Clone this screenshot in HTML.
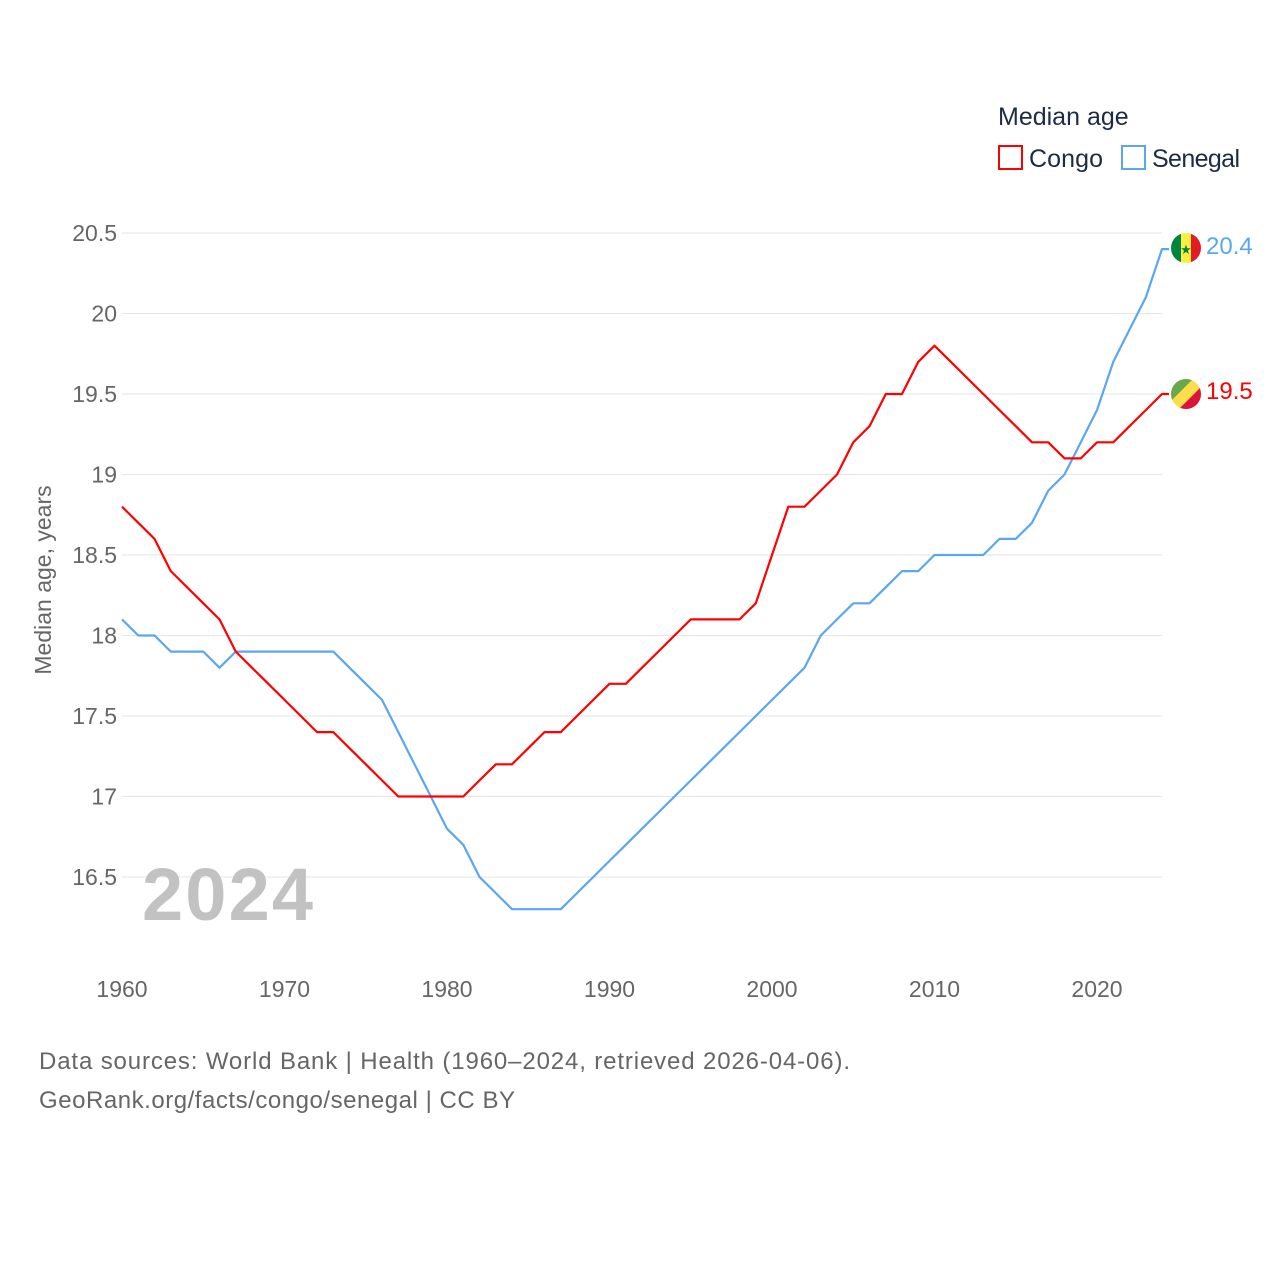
<!DOCTYPE html>
<html><head><meta charset="utf-8">
<style>
body{margin:0;background:#fff;font-family:"Liberation Sans",sans-serif;}
svg text{font-family:"Liberation Sans",sans-serif;}
</style></head>
<body>
<svg id="chart" width="1280" height="1280" xmlns="http://www.w3.org/2000/svg">
  <text x="998" y="125" font-size="25" fill="#1d2b45">Median age</text>
  <g>
    <rect x="999" y="146" width="23" height="23" fill="none" stroke="#f00" stroke-width="2"/>
    <text x="1029" y="167" font-size="25" fill="#1d2b45" textLength="74">Congo</text>
  </g>
  <g>
    <rect x="1122" y="146" width="23" height="23" fill="none" stroke="#5aa7ef" stroke-width="2"/>
    <text x="1152" y="167" font-size="25" fill="#1d2b45" textLength="88">Senegal</text>
  </g>
  <g id="grid"></g>
  <g id="yticks"></g>
  <g id="xticks"></g>
  <text x="0" y="0" transform="translate(51,580) rotate(-90)" text-anchor="middle" font-size="23" fill="#666">Median age, years</text>
  <text x="142" y="920" font-size="74" font-weight="bold" fill="#c2c2c2" textLength="171">2024</text>
  <g id="series"></g>
  <g>
    <clipPath id="cs"><circle cx="1186" cy="248" r="15"/></clipPath>
    <g clip-path="url(#cs)">
      <rect x="1171" y="233" width="10" height="30" fill="#00853f"/>
      <rect x="1181" y="233" width="10" height="30" fill="#fdef42"/>
      <rect x="1191" y="233" width="10" height="30" fill="#e31b23"/>
    </g>
    <text x="1186" y="254" font-size="13" text-anchor="middle" fill="#00853f">★</text>
  </g>
  <g>
    <clipPath id="cc"><circle cx="1186" cy="394" r="15"/></clipPath>
    <g clip-path="url(#cc)">
      <rect x="1171" y="379" width="30" height="30" fill="#fbde4a"/>
      <polygon points="1171,379 1193,379 1171,401" fill="#6aa84f"/>
      <polygon points="1201,387 1201,409 1179,409" fill="#dc143c"/>
    </g>
  </g>
  <text x="1206" y="254" font-size="24" fill="#5aa7ef">20.4</text>
  <text x="1206" y="399" font-size="24" fill="#f00">19.5</text>
  <text x="39" y="1069" font-size="24" fill="#666" textLength="811">Data sources: World Bank | Health (1960–2024, retrieved 2026-04-06).</text>
  <text x="39" y="1108" font-size="24" fill="#666" textLength="476">GeoRank.org/facts/congo/senegal | CC BY</text>
</svg>
<script>
const years=[];for(let y=1960;y<=2024;y++)years.push(y);
const congo=[18.8,18.7,18.6,18.4,18.3,18.2,18.1,17.9,17.8,17.7,17.6,17.5,17.4,17.4,17.3,17.2,17.1,17.0,17.0,17.0,17.0,17.0,17.1,17.2,17.2,17.3,17.4,17.4,17.5,17.6,17.7,17.7,17.8,17.9,18.0,18.1,18.1,18.1,18.1,18.2,18.5,18.8,18.8,18.9,19.0,19.2,19.3,19.5,19.5,19.7,19.8,19.7,19.6,19.5,19.4,19.3,19.2,19.2,19.1,19.1,19.2,19.2,19.3,19.4,19.5];
const senegal=[18.1,18.0,18.0,17.9,17.9,17.9,17.8,17.9,17.9,17.9,17.9,17.9,17.9,17.9,17.8,17.7,17.6,17.4,17.2,17.0,16.8,16.7,16.5,16.4,16.3,16.3,16.3,16.3,16.4,16.5,16.6,16.7,16.8,16.9,17.0,17.1,17.2,17.3,17.4,17.5,17.6,17.7,17.8,18.0,18.1,18.2,18.2,18.3,18.4,18.4,18.5,18.5,18.5,18.5,18.6,18.6,18.7,18.9,19.0,19.2,19.4,19.7,19.9,20.1,20.4];
const yTicks=[16.5,17,17.5,18,18.5,19,19.5,20,20.5];
const xTicks=[1960,1970,1980,1990,2000,2010,2020];
const NS="http://www.w3.org/2000/svg";
const xs=v=>122+(v-1960)*(1162-122)/64;
const ys=v=>233+(20.5-v)*161;
function mk(t,a,p){const e=document.createElementNS(NS,t);for(const k in a)e.setAttribute(k,a[k]);p.appendChild(e);return e;}
const g=document.getElementById('grid'),yt=document.getElementById('yticks'),xt=document.getElementById('xticks'),s=document.getElementById('series');
yTicks.forEach(v=>{
  const l=mk('line',{x1:122,x2:1162,y1:ys(v),y2:ys(v),stroke:'#e6e6e6','stroke-width':1},g);
  
  
  const t=mk('text',{x:117,y:ys(v)+8,'text-anchor':'end','font-size':23,fill:'#666'},yt);
  t.textContent=String(v);
  
  
});
xTicks.forEach(v=>{
  const t=mk('text',{x:xs(v),y:997,'text-anchor':'middle','font-size':23,fill:'#666'},xt);
  t.textContent=String(v);
  
  
});
function line(data,color,name){
  let d=data.map((v,i)=>(i?'L':'M')+xs(years[i]).toFixed(1)+','+ys(v).toFixed(1)).join('');
  d+='L'+(xs(years[years.length-1])+7).toFixed(1)+','+ys(data[data.length-1]).toFixed(1);
  const p=mk('path',{d:d,fill:'none',stroke:color,'stroke-width':2.2,'stroke-linejoin':'round'},s);
  
  
}
line(senegal,'#5aa7ef','senegal-line');
line(congo,'#f00','congo-line');
</script>
</body></html>
